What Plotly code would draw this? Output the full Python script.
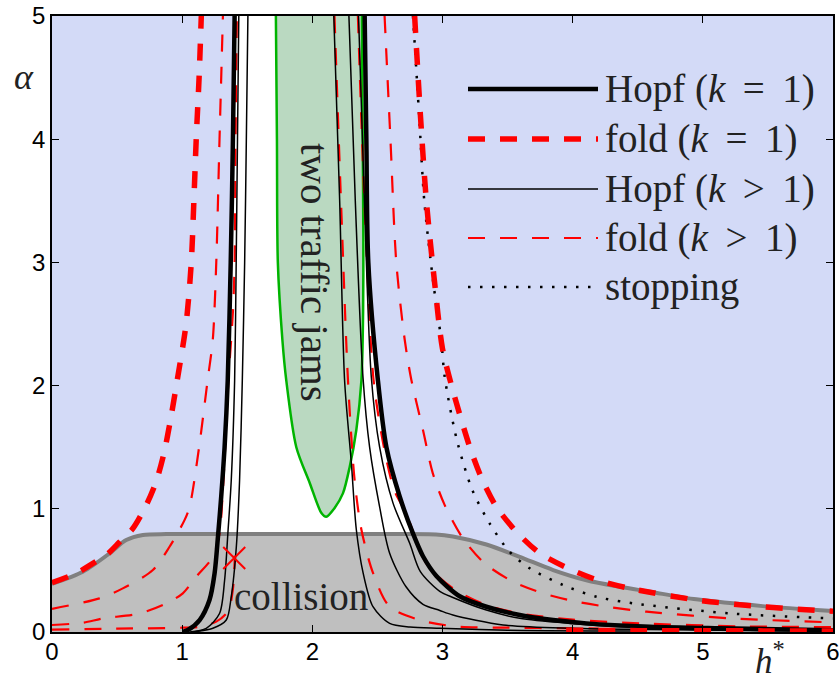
import plotly.graph_objects as go

# ---- bifurcation curves in the (h*, alpha) plane ----
# Hopf, k = 1 (two branches)
hopf1_left_h = [1.005, 1.044, 1.134, 1.21, 1.249, 1.275, 1.30, 1.326, 1.35, 1.373, 1.39, 1.403]
hopf1_left_a = [0.0, 0.016, 0.097, 0.26, 0.476, 0.773, 1.10, 1.50, 2.04, 3.0, 4.0, 5.0]
hopf1_right_h = [2.402, 2.415, 2.43, 2.504, 2.569, 2.671, 2.773, 2.85, 2.953, 3.132, 3.337,
                 3.593, 3.85, 4.106, 4.593, 5.13, 6.0]
hopf1_right_a = [5.0, 4.0, 3.0, 2.04, 1.50, 1.10, 0.80, 0.615, 0.455, 0.29, 0.205,
                 0.138, 0.097, 0.07, 0.043, 0.03, 0.015]

# fold, k = 1
fold1_left_h = [0.0, 0.186, 0.314, 0.417, 0.519, 0.621, 0.724, 0.80, 0.86, 0.91, 0.955, 1.03,
                1.07, 1.09, 1.108, 1.13, 1.147]
fold1_left_a = [0.40, 0.476, 0.557, 0.624, 0.73, 0.84, 1.03, 1.22, 1.45, 1.72, 2.0, 2.5,
                3.0, 3.5, 4.0, 4.5, 5.0]
fold1_right_h = [2.786, 2.83, 2.876, 2.94, 3.0, 3.08, 3.21, 3.30, 3.414, 3.568, 3.747, 3.965,
                 4.195, 4.439, 4.95, 5.46, 6.0]
fold1_right_a = [5.0, 4.2, 3.5, 2.83, 2.3, 1.96, 1.5, 1.25, 1.016, 0.813, 0.64, 0.517,
                 0.42, 0.354, 0.26, 0.205, 0.168]
fold1_low_h = [3.95, 4.5, 5.0, 5.5, 6.0]
fold1_low_a = [0.014, 0.011, 0.010, 0.009, 0.008]

# Hopf, k > 1
hopfk_l1_h = [1.057, 1.185, 1.287, 1.326, 1.351, 1.377, 1.403, 1.415, 1.425, 1.435]
hopfk_l1_a = [0.0, 0.03, 0.15, 0.42, 0.80, 1.23, 2.04, 3.0, 4.0, 5.0]
hopfk_l2_h = [1.082, 1.236, 1.339, 1.377, 1.416, 1.441, 1.462, 1.48, 1.493, 1.505]
hopfk_l2_a = [0.0, 0.03, 0.097, 0.286, 0.69, 1.23, 2.04, 3.0, 4.0, 5.0]
hopfk_r1_h = [2.165, 2.21, 2.248, 2.30, 2.338, 2.39, 2.466, 2.594, 2.75, 2.98, 3.5, 4.5]
hopfk_r1_a = [5.0, 3.5, 2.04, 1.37, 0.83, 0.48, 0.205, 0.07, 0.04, 0.03, 0.015, 0.008]
hopfk_r2_h = [2.281, 2.33, 2.389, 2.44, 2.517, 2.594, 2.72, 2.85, 2.979, 3.08, 3.465, 4.0,
              4.6, 5.3, 6.0]
hopfk_r2_a = [5.0, 3.5, 2.07, 1.50, 1.016, 0.64, 0.367, 0.225, 0.175, 0.138, 0.057, 0.03,
              0.02, 0.012, 0.008]
hopfk_r3_h = [2.355, 2.40, 2.453, 2.517, 2.62, 2.748, 2.83, 2.979, 3.08, 3.337, 3.593, 3.978,
              4.593, 5.3, 6.0]
hopfk_r3_a = [5.0, 3.5, 2.07, 1.50, 1.046, 0.72, 0.49, 0.33, 0.28, 0.178, 0.111, 0.07,
              0.03, 0.015, 0.01]

# fold, k > 1
foldk_l1_h = [0.0, 0.365, 0.544, 0.775, 0.903, 1.018, 1.057, 1.13, 1.195, 1.235, 1.262, 1.287, 1.313]
foldk_l1_a = [0.188, 0.273, 0.354, 0.503, 0.692, 0.908, 1.016, 1.5, 2.04, 2.37, 3.0, 4.0, 5.0]
foldk_l2_h = [0.0, 0.237, 0.39, 0.673, 0.878, 1.005, 1.108, 1.236, 1.287, 1.31, 1.335, 1.355,
              1.39, 1.403, 1.41, 1.42]
foldk_l2_a = [0.057, 0.075, 0.11, 0.151, 0.233, 0.314, 0.449, 0.61, 0.80, 1.1, 1.6, 2.04,
              2.6, 3.0, 4.0, 5.0]
foldk_l3_h = [0.0, 0.5, 1.0, 1.134, 1.262, 1.339, 1.366, 1.39, 1.40, 1.405]
foldk_l3_a = [0.02, 0.027, 0.035, 0.043, 0.084, 0.15, 0.205, 0.35, 0.5, 0.62]
foldk_r1_h = [2.17, 2.22, 2.274, 2.325, 2.377, 2.466, 2.594, 2.825, 3.1, 3.5, 4.0, 4.2]
foldk_r1_a = [5.0, 3.5, 2.04, 1.23, 0.83, 0.48, 0.205, 0.097, 0.045, 0.035, 0.03, 0.028]
foldk_r2_h = [2.35, 2.40, 2.47, 2.55, 2.63, 2.72, 2.876, 3.08, 3.337, 3.6, 4.0, 4.516, 5.29, 6.0]
foldk_r2_a = [5.0, 3.5, 2.05, 1.5, 1.15, 0.965, 0.557, 0.354, 0.219, 0.15, 0.1, 0.07, 0.046, 0.04]
foldk_r3_h = [2.555, 2.60, 2.645, 2.71, 2.76, 2.85, 2.925, 3.017, 3.157, 3.324, 3.542, 3.772,
              4.029, 4.26, 4.567, 5.21, 6.0]
foldk_r3_a = [5.0, 4.0, 3.0, 2.37, 2.05, 1.64, 1.29, 1.03, 0.76, 0.557, 0.408, 0.314,
              0.246, 0.205, 0.165, 0.111, 0.078]

# stopping curve
stop_h = [2.773, 2.82, 2.86, 2.93, 2.99, 3.017, 3.11, 3.23, 3.363, 3.516, 3.67, 3.926,
          4.183, 4.464, 5.21, 6.0]
stop_a = [5.0, 4.2, 3.5, 2.83, 2.37, 2.07, 1.56, 1.15, 0.88, 0.65, 0.517, 0.381,
          0.286, 0.233, 0.151, 0.11]

# collision boundary
coll_h = [0.0, 0.237, 0.442, 0.57, 0.698, 0.878, 1.5, 2.5, 2.95, 3.08, 3.337, 3.593, 3.85,
          4.106, 4.362, 4.593, 4.95, 5.46, 6.0]
coll_a = [0.39, 0.489, 0.638, 0.746, 0.787, 0.795, 0.795, 0.795, 0.792, 0.775, 0.71, 0.61, 0.503,
          0.42, 0.367, 0.327, 0.265, 0.21, 0.17]

# two-traffic-jam region boundary
jam_h = [1.72, 1.728, 1.735, 1.77, 1.80, 1.877, 1.98, 2.07, 2.107, 2.17, 2.235, 2.287, 2.338,
         2.377, 2.39, 2.392, 2.387, 2.381]
jam_a = [5.0, 4.0, 3.0, 2.37, 2.04, 1.50, 1.21, 0.965, 0.935, 1.005, 1.125, 1.34, 1.64,
         2.04, 2.6, 3.2, 4.0, 5.0]

# marked point
mark_h = [1.40]
mark_a = [0.60]

BLUE = "rgb(211,218,247)"
GRAY_FILL = "rgb(191,191,191)"
GRAY_LINE = "rgb(128,128,128)"
GREEN_FILL = "rgb(186,217,193)"
GREEN_LINE = "rgb(0,180,0)"
DASH = "17px,15px"
DOT = "2.5px,9.5px"
SERIF = "Liberation Serif"
TXT = "#222222"

fig = go.Figure()


def curve(h, a, color, width, dash="solid"):
    fig.add_trace(go.Scatter(x=h, y=a, mode="lines", showlegend=False, hoverinfo="skip",
                             line=dict(color=color, width=width, dash=dash,
                                       shape="spline", smoothing=0.8)))


def region(h, a, color):
    fig.add_trace(go.Scatter(x=h, y=a, mode="lines", fill="toself", fillcolor=color,
                             showlegend=False, hoverinfo="skip", line=dict(width=0)))


# stable region between the k=1 Hopf branches (white)
region(hopf1_left_h + hopf1_right_h, hopf1_left_a + hopf1_right_a, "white")
# collision region (gray)
region(coll_h + [6.0, 0.0], coll_a + [0.0, 0.0], GRAY_FILL)
curve(coll_h, coll_a, GRAY_LINE, 4)
# two traffic jams region (green)
region(jam_h, jam_a, GREEN_FILL)
curve(jam_h, jam_a, GREEN_LINE, 2.5)

# k > 1 curves
for h, a in [(foldk_l1_h, foldk_l1_a), (foldk_l2_h, foldk_l2_a), (foldk_l3_h, foldk_l3_a),
             (foldk_r1_h, foldk_r1_a), (foldk_r2_h, foldk_r2_a), (foldk_r3_h, foldk_r3_a)]:
    curve(h, a, "red", 2.2, DASH)
for h, a in [(hopfk_l1_h, hopfk_l1_a), (hopfk_l2_h, hopfk_l2_a), (hopfk_r1_h, hopfk_r1_a),
             (hopfk_r2_h, hopfk_r2_a), (hopfk_r3_h, hopfk_r3_a)]:
    curve(h, a, "black", 1.5)

# stopping
curve(stop_h, stop_a, "black", 2.5, DOT)
# k = 1 curves
curve(hopf1_left_h, hopf1_left_a, "black", 4.5)
curve(hopf1_right_h, hopf1_right_a, "black", 4.5)
curve(fold1_left_h, fold1_left_a, "red", 5.5, DASH)
curve(fold1_right_h, fold1_right_a, "red", 5.5, DASH)
curve(fold1_low_h, fold1_low_a, "red", 5.5, DASH)

fig.add_trace(go.Scatter(x=mark_h, y=mark_a, mode="markers", showlegend=False, hoverinfo="skip",
                         marker=dict(symbol="x-thin", size=22, line=dict(color="red", width=2))))

# region labels
fig.add_annotation(x=1.915, y=0.29, text="collision", showarrow=False, xanchor="center",
                   yanchor="middle", font=dict(family=SERIF, size=39, color=TXT))
fig.add_annotation(x=2.015, y=2.92, text="two traffic jams", showarrow=False, textangle=90,
                   xanchor="center", yanchor="middle", font=dict(family=SERIF, size=41, color=TXT))

# legend (drawn by hand so the sample lines are long)
L, W, T, H = 52, 781, 16, 616


def px_x(p):
    return (p - L) / W


def px_y(p):
    return 1 - (p - T) / H


SP = "\u2009"
legend_rows = [
    ("Hopf (<i>k</i>" + SP + " = " + SP + "1)", "black", 4.5, "solid"),
    ("fold (<i>k</i>" + SP + " = " + SP + "1)", "red", 5.5, DASH),
    ("Hopf (<i>k</i>" + SP + " > " + SP + "1)", "black", 1.5, "solid"),
    ("fold (<i>k</i>" + SP + " > " + SP + "1)", "red", 2.2, DASH),
    ("stopping", "black", 2.5, DOT),
]
row_y = [89, 139, 189, 238, 287]
for (label, col, wid, dsh), yy in zip(legend_rows, row_y):
    fig.add_shape(type="line", xref="paper", yref="paper", x0=px_x(468), x1=px_x(598),
                  y0=px_y(yy), y1=px_y(yy), line=dict(color=col, width=wid, dash=dsh),
                  layer="above")
    fig.add_annotation(xref="paper", yref="paper", x=px_x(603), y=px_y(yy), text=label,
                       showarrow=False, xanchor="left", yanchor="middle",
                       font=dict(family=SERIF, size=39, color=TXT))

# axis labels
fig.add_annotation(xref="paper", yref="paper", x=px_x(24), y=px_y(77), text="<i>α</i>",
                   showarrow=False, xanchor="center", yanchor="middle",
                   font=dict(family=SERIF, size=36, color=TXT))
fig.add_annotation(xref="paper", yref="paper", x=px_x(770), y=px_y(658), text="<i>h</i><sup>*</sup>",
                   showarrow=False, xanchor="center", yanchor="middle",
                   font=dict(family=SERIF, size=35, color=TXT))

axis_common = dict(showgrid=False, zeroline=False, showline=True, linecolor="black", linewidth=1.5,
                   mirror="ticks", ticks="inside", ticklen=7, tickwidth=1.2, tickcolor="black",
                   automargin=False, ticklabeloverflow="allow",
                   tickfont=dict(family="Liberation Sans", size=24, color="black"))
fig.update_xaxes(range=[0, 6], tickvals=[0, 1, 2, 3, 4, 5, 6], ticklabelstandoff=-3, **axis_common)
fig.update_yaxes(range=[0, 5], tickvals=[0, 1, 2, 3, 4, 5], **axis_common)

fig.update_layout(width=839, height=680, autosize=False,
                  margin=dict(l=L, r=839 - L - W, t=T, b=680 - T - H),
                  plot_bgcolor=BLUE, paper_bgcolor="white", showlegend=False)

fig.write_html("out.html")
